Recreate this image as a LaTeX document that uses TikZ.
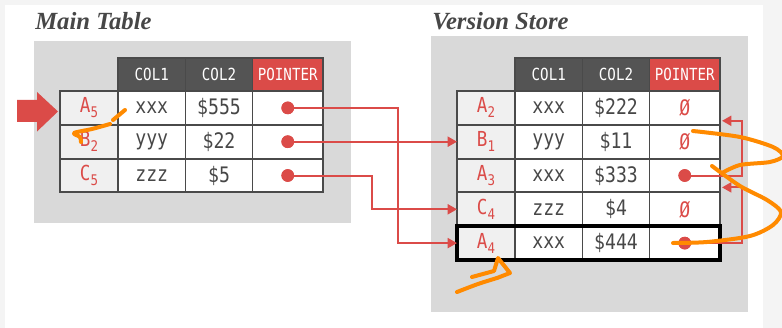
\documentclass[tikz,border=0pt]{standalone}
\usepackage{fontspec}
\setmainfont{Liberation Serif}
\newfontfamily\cellfont[FakeStretch=0.85]{DejaVu Sans Mono}
\usetikzlibrary{arrows.meta,calc,fit}

\definecolor{dbred}{HTML}{DB4B48}
\definecolor{hdrgray}{HTML}{545454}
\definecolor{edgegray}{HTML}{4A4A4A}
\definecolor{panelgray}{HTML}{D9D9D9}
\definecolor{keyfill}{HTML}{F0F0F0}
\definecolor{textgray}{HTML}{474747}
\definecolor{pagegray}{HTML}{F4F4F4}
\definecolor{marker}{HTML}{FF8A00}

\tikzset{
  cellbase/.style={draw=edgegray, line width=1.4pt, inner sep=0pt, outer sep=0pt,
    minimum height=25.35pt, anchor=north west, text=textgray,
    font=\cellfont\fontsize{16}{16}\selectfont},
  keycell/.style={cellbase, fill=keyfill, minimum width=43.5pt, text=dbred,
    font=\cellfont\fontsize{15.5}{15.5}\selectfont},
  col1cell/.style={cellbase, fill=white, minimum width=50.625pt},
  col2cell/.style={cellbase, fill=white, minimum width=50.25pt},
  ptrcell/.style={cellbase, fill=white, minimum width=52.875pt, text=dbred},
  hdrcell/.style={cellbase, fill=hdrgray, minimum height=24.75pt, text=white,
    font=\cellfont\fontsize{12.5}{12.5}\selectfont},
  title/.style={font=\bfseries\itshape\fontsize{18.5}{18.5}\selectfont,
    text=textgray, anchor=base west, inner sep=0pt},
  dot/.style={circle, fill=dbred, minimum size=9.5pt, inner sep=0pt},
  link/.style={draw=dbred, line width=1.5pt, -{Triangle[length=7pt,width=7.5pt]}},
  current/.style={draw=black, line width=2.6pt, inner sep=0pt},
  panel/.style={fill=panelgray},
  scribble/.style={draw=marker, line width=3pt, line cap=round, line join=round},
}

% key label with a lowered version number
\newcommand\keylab[2]{#1\raisebox{-0.45ex}{\fontsize{11}{11}\selectfont #2}}

% header row: COL1, COL2, POINTER
\newcommand\headrow[3]{%
  \node[hdrcell, minimum width=50.625pt] (#1h1) at (#2,#3) {COL1};
  \node[hdrcell, minimum width=50.25pt] (#1h2) at (#1h1.north east) {COL2};
  \node[hdrcell, minimum width=52.875pt, fill=dbred] (#1h3) at (#1h2.north east) {POINTER};
}

% one tuple: key, col1, col2, pointer
\newcommand\tablerow[7]{%
  \node[keycell] (#1k) at (#2,#3) {#4};
  \node[col1cell] (#1c) at (#1k.north east) {#5};
  \node[col2cell] (#1v) at (#1c.north east) {#6};
  \node[ptrcell] (#1p) at (#1v.north east) {#7};
}

\begin{document}
\begin{tikzpicture}[x=0.75pt, y=-0.75pt]
  \clip (0,0) rectangle (782,328);
  \fill[pagegray] (0,0) rectangle (782,328);
  \fill[white] (5,5) rectangle (763,328);

  % panels and titles
  \fill[panel] (34,41) rectangle (351,223);
  \fill[panel] (431,36) rectangle (748,312);
  \node[title] (tmain) at (35,30) {Main Table};
  \node[title] (tvers) at (432,30) {Version Store};

  % main table
  \headrow{m}{118}{58}
  \tablerow{mA5}{60}{91}{\keylab{A}{5}}{xxx}{\$555}{}
  \tablerow{mB2}{60}{124.8}{\keylab{B}{2}}{yyy}{\$22}{}
  \tablerow{mC5}{60}{158.6}{\keylab{C}{5}}{zzz}{\$5}{}

  % version store
  \headrow{v}{515}{58}
  \tablerow{vA2}{457}{91}{\keylab{A}{2}}{xxx}{\$222}{Ø}
  \tablerow{vB1}{457}{124.8}{\keylab{B}{1}}{yyy}{\$11}{Ø}
  \tablerow{vA3}{457}{158.6}{\keylab{A}{3}}{xxx}{\$333}{}
  \tablerow{vC4}{457}{192.4}{\keylab{C}{4}}{zzz}{\$4}{Ø}
  \tablerow{vA4}{457}{226.2}{\keylab{A}{4}}{xxx}{\$444}{}
  \node[current, fit=(vA4k)(vA4p)] (vA4box) {};

  % entry marker
  \fill[dbred] (17,100) -- (37,100) -- (37,92) -- (58,111.5) -- (37,131.5)
    -- (37,122) -- (17,122) -- cycle;

  % pointer dots
  \node[dot] (mA5d) at (mA5p.center) {};
  \node[dot] (mB2d) at (mB2p.center) {};
  \node[dot] (mC5d) at (mC5p.center) {};
  \node[dot] (vA3d) at (vA3p.center) {};
  \node[dot] (vA4d) at (vA4p.center) {};

  % main table -> version store
  \coordinate (jA) at (398,150);
  \coordinate (jC) at (372,190);
  \draw[link] (mA5d.center) -| (jA) |- (vA4k.west);
  \draw[link] (mB2d.center) -- (vB1k.west);
  \draw[link] (mC5d.center) -| (jC) |- (vC4k.west);

  % version chain
  \coordinate (jR1) at (742,150);
  \coordinate (jR2) at (742,215);
  \draw[link] (vA3d.center) -| (jR1) |- ($(vA2p.south east)+(2,-4)$);
  \draw[link] (vA4d.center) -| (jR2) |- ($(vA3p.south east)+(2,-5)$);

  % redraw dots above the lines
  \foreach \d in {mA5d,mB2d,mC5d,vA3d,vA4d} \fill[dbred] (\d) circle (4.75pt);

  % hand-drawn marks
  \draw[scribble] (125,110) -- (113,120);
  \draw[scribble] plot[smooth] coordinates {(110,124) (92,129) (74,133) (80,137) (81,142)};
  \draw[scribble] plot[smooth] coordinates {(457,292) (478,284) (497,278)};
  \draw[scribble] (497,278) -- (510,273) -- (498,258) -- (494,271) -- (472,277);
  \draw[scribble] plot[smooth] coordinates {(693,131) (740,137) (773,147) (783,156)
    (770,162) (740,165) (722,173)};
  \draw[scribble] plot[smooth] coordinates {(712,166) (740,186) (767,200) (781,212)
    (773,225) (750,236) (707,242) (673,243)};
\end{tikzpicture}
\end{document}
